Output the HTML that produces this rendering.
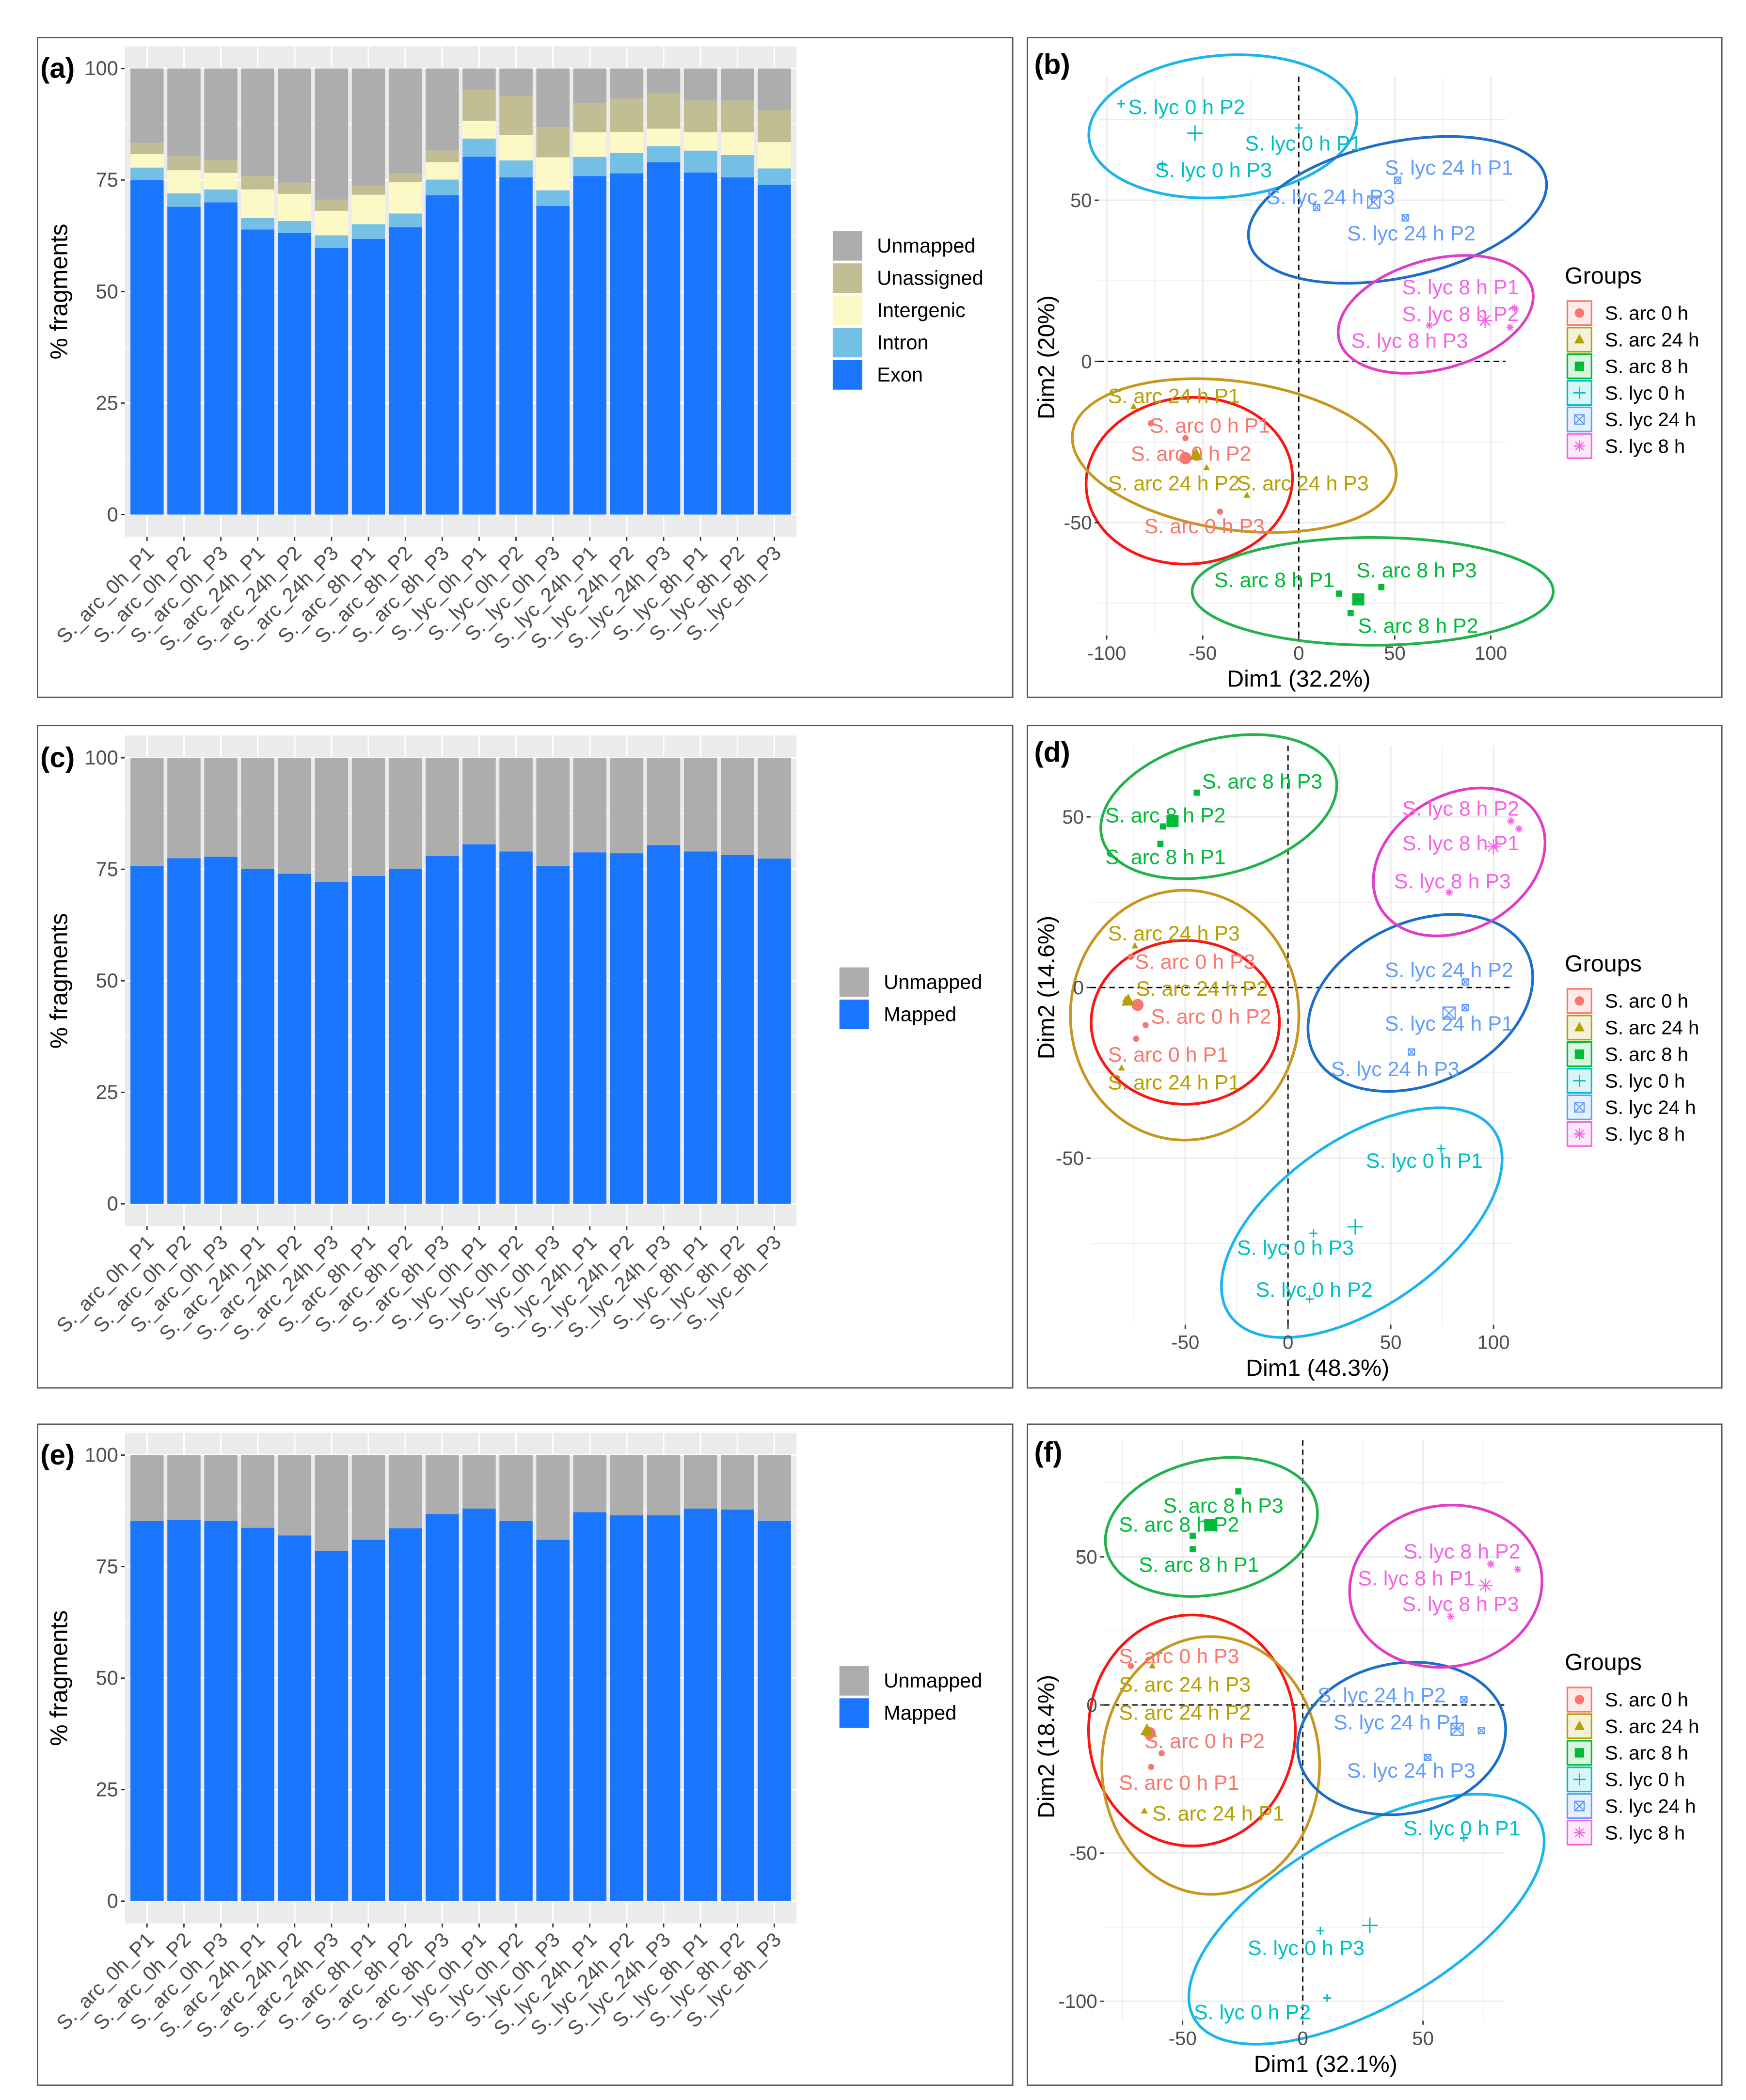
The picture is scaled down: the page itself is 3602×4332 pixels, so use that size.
<!DOCTYPE html>
<html><head><meta charset="utf-8"><style>
html,body{margin:0;padding:0;background:#fff}
svg{display:block;font-family:"Liberation Sans",sans-serif}
</style></head><body>
<svg id="fig" xmlns="http://www.w3.org/2000/svg" width="3602" height="4332" viewBox="0 0 1300 1563" preserveAspectRatio="none"></svg>
<script>
// ---------- bar chart data ----------
const cats = ["S._arc_0h_P1","S._arc_0h_P2","S._arc_0h_P3","S._arc_24h_P1","S._arc_24h_P2","S._arc_24h_P3","S._arc_8h_P1","S._arc_8h_P2","S._arc_8h_P3","S._lyc_0h_P1","S._lyc_0h_P2","S._lyc_0h_P3","S._lyc_24h_P1","S._lyc_24h_P2","S._lyc_24h_P3","S._lyc_8h_P1","S._lyc_8h_P2","S._lyc_8h_P3"];
const exonA = [75,69,70,63.9,63.1,59.8,61.8,64.4,71.6,80.2,75.6,69.2,75.9,76.5,79,76.7,75.6,73.9];
const intronA = [2.8,3,2.9,2.6,2.7,2.8,3.3,3.1,3.5,4.1,3.8,3.5,4.3,4.6,3.6,4.9,5,3.7];
const intergenicA = [3,5.2,3.7,6.4,6.1,5.5,6.6,7,3.9,4,5.7,7.4,5.5,4.7,3.9,4.1,5.1,5.9];
const unassignedA = [2.5,3.1,2.9,3,2.5,2.5,2,2,2.6,6.9,8.8,6.7,6.6,7.5,7.8,7.1,7.1,7.2];
const mappedC = [75.8,77.5,77.8,75.1,74,72.2,73.5,75.1,78,80.6,79,75.8,78.8,78.6,80.4,79,78.2,77.4];
const mappedE = [85.2,85.5,85.3,83.7,82,78.5,81,83.6,86.8,88,85.2,81,87.2,86.5,86.5,88,87.8,85.3];
const barTicks = [0,25,50,75,100];

// ---------- PCA data (order: arc0, arc24, arc8, lyc0, lyc24, lyc8; each P1,P2,P3) ----------
const groupNames = ["S. arc 0 h","S. arc 24 h","S. arc 8 h","S. lyc 0 h","S. lyc 24 h","S. lyc 8 h"];
const pointLabels = ["S. arc 0 h P1","S. arc 0 h P2","S. arc 0 h P3","S. arc 24 h P1","S. arc 24 h P2","S. arc 24 h P3","S. arc 8 h P1","S. arc 8 h P2","S. arc 8 h P3","S. lyc 0 h P1","S. lyc 0 h P2","S. lyc 0 h P3","S. lyc 24 h P1","S. lyc 24 h P2","S. lyc 24 h P3","S. lyc 8 h P1","S. lyc 8 h P2","S. lyc 8 h P3"];

const bPtX = [-77,-59,-41,-86,-48,-27,21,27,43,0,-92.5,-71,51.5,55.5,9.3,112.5,110,68];
const bPtY = [-19.2,-23.8,-46.6,-14,-33,-41.5,-72,-78,-70,72.4,79.9,61,56.2,44.5,47.7,16.5,10.6,11.2];
const bLabX = [-77.6,-87.4,-80.4,-99.3,-99.3,-32.2,-44,30.8,30,-28,-88.8,-74.8,44.8,25.2,-16.8,53.8,53.8,27.3];
const bLabY = [-22.1,-30.8,-53.3,-12.9,-40,-40,-70,-84.2,-67,65.4,76.7,57.1,57.9,37.5,48.8,20.8,12.5,4.2];
const bCenX = [-59,-53.5,31,-54,39,97];
const bCenY = [-30,-29,-73.8,70.8,49.4,12.7];
const bEllX = [-57,-33.6,38.5,-39.5,51.4,71.3];
const bEllY = [-37,-29.2,-71.3,72.9,47,14.6];
const bEllRx = [53.8,85,94,70,79,52];
const bEllRy = [25.8,23,16.7,22,21,17];
const bEllA = [-5,8,0,-5,-12,-15];
const bTickX = [-100,-50,0,50,100];
const bTickY = [-50,0,50];

const dPtX = [-73.9,-69.3,-76.5,-81,-79,-74.5,-62.1,-60.8,-44.4,74.5,10.5,12.4,86.3,86.3,60.1,112.4,108.5,78.4];
const dPtY = [-15,-11,9,-23.6,-3.5,12.2,42.1,47.2,57.1,-47.2,-91.3,-72,-5.9,1.6,-18.9,46.5,48.8,27.9];
const dLabX = [-87.6,-66.7,-74.5,-87.6,-73.9,-87.6,-88.9,-88.9,-41.8,37.9,-15.7,-24.8,47.1,47.1,20.9,55.6,55.6,51.6];
const dLabY = [-21.7,-10.6,5.5,-29.9,-2.4,13.8,36.2,48.4,58.3,-52.8,-90.6,-78.3,-12.6,3.1,-26,40.2,50.4,29.1];
const dCenX = [-73.2,-77.8,-56.2,32.7,78.4,99.9];
const dCenY = [-5.1,-3.9,48.8,-70.1,-7.5,41.3];
const dEllX = [-50,-50.3,-33.7,35.9,64.4,83.3];
const dEllY = [-10.2,-8.1,53,-68.9,-4.5,36.8];
const dEllRx = [45.8,55.6,58.8,78.4,57.5,44.4];
const dEllRy = [24,36.6,19.7,24.4,23.6,19.7];
const dEllA = [0,0,-15,-35,-25,-30];
const dTickX = [-50,0,50,100];
const dTickY = [-50,0,50];

const fPtX = [-63.1,-58.7,-71.5,-65.9,-64.2,-62.6,-45.8,-45.8,-26.8,67,10.1,7.3,74.3,67,52,89.4,78.2,61.5];
const fPtY = [-20.9,-16.3,13.2,-35.8,-9.5,13.2,52.6,57.1,72.1,-44.9,-98.9,-76.2,-8.6,1.8,-17.7,45.8,47.6,29.9];
const fLabX = [-76.5,-65.9,-76.5,-62.6,-76.5,-76.5,-68.2,-76.5,-58.1,41.9,-45.3,-22.9,12.8,6.1,18.4,22.9,41.9,41.3];
const fLabY = [-28.6,-14.5,14.1,-39,-5,4.5,44.9,58.5,64.9,-44,-106.1,-84.4,-8.2,0.9,-24.5,40.4,49.4,31.7];
const fCenX = [-63.7,-64.8,-38.5,27.9,64.2,76];
const fCenY = [-9.5,-8.6,60.8,-74.4,-8.2,40.4];
const fEllX = [-46.1,-38.3,-38,26.5,41.1,59.5];
const fEllY = [-8.6,-20.4,60.1,-72.3,-11.3,40.1];
const fEllRx = [43,45.3,44.7,82.7,43.6,40.2];
const fEllRy = [39,43.5,22.7,29.5,25.4,27.2];
const fEllA = [0,0,-12,-30,-10,-10];
const fTickX = [-50,0,50];
const fTickY = [-100,-50,0,50];

// ---------- helpers ----------
const NS = "http://www.w3.org/2000/svg";
const svg = document.getElementById("fig");
function mk(parent, tag, attrs, text){
  const e = document.createElementNS(NS, tag);
  for (const k in attrs) e.setAttribute(k, attrs[k]);
  if (text !== undefined) e.textContent = text;
  parent.appendChild(e);
  return e;
}
const grpCol = ["#F8766D","#B79F00","#00BA38","#00BFC4","#619CFF","#F564E3"];
const ellCol = ["#FF1414","#C8961E","#22B24C","#1CB4EE","#1C6FC8","#E03CC8"];
const shapes = ["circle","triangle","square","plus","boxx","star"];

function shape(g, type, cx, cy, s, col){
  let e;
  if (type==="circle") e = mk(g,"circle",{cx:cx,cy:cy,r:s,fill:col});
  else if (type==="triangle") e = mk(g,"polygon",{points:`${cx},${cy-s*1.2} ${cx-s*1.1},${cy+s*0.8} ${cx+s*1.1},${cy+s*0.8}`,fill:col});
  else if (type==="square") e = mk(g,"rect",{x:cx-s,y:cy-s,width:2*s,height:2*s,fill:col});
  else if (type==="plus") e = mk(g,"path",{d:`M${cx-s*1.3},${cy}H${cx+s*1.3}M${cx},${cy-s*1.3}V${cy+s*1.3}`,stroke:col,"stroke-width":1,fill:"none"});
  else if (type==="boxx") e = mk(g,"path",{d:`M${cx-s},${cy-s}h${2*s}v${2*s}h${-2*s}zM${cx-s},${cy-s}L${cx+s},${cy+s}M${cx+s},${cy-s}L${cx-s},${cy+s}`,stroke:col,"stroke-width":0.9,fill:"none"});
  else e = mk(g,"path",{d:`M${cx-s*1.2},${cy}H${cx+s*1.2}M${cx},${cy-s*1.2}V${cy+s*1.2}M${cx-s*0.85},${cy-s*0.85}L${cx+s*0.85},${cy+s*0.85}M${cx+s*0.85},${cy-s*0.85}L${cx-s*0.85},${cy+s*0.85}`,stroke:col,"stroke-width":0.9,fill:"none"});
  return e;
}

// panel borders
const borders = [[28,28,726,491,"panel-a"],[765,28,517,491,"panel-b"],[28,540,726,493,"panel-c"],[765,540,517,493,"panel-d"],[28,1060,726,492,"panel-e"],[765,1060,517,492,"panel-f"]];
borders.forEach(b=>{
  const r = mk(svg,"rect",{x:b[0],y:b[1],width:b[2],height:b[3],fill:"none",stroke:"#555","stroke-width":1});
  
  
});

// ---------- bar charts ----------
function barChart(name, letter, zeroY, series, colors, names, legendTop){
  const g = mk(svg,"g",{});
  
  
  const L=93, R=593, ky=3.32;
  const y = v => zeroY - v*ky;
  const x = k => L + (k+1-0.4)*(R-L)/18.2;
  const top = y(105), bot = y(-5);
  const bg = mk(g,"rect",{x:L,y:top,width:R-L,height:bot-top,fill:"#EBEBEB"});
  
  
  [12.5,37.5,62.5,87.5].forEach(v=>mk(g,"line",{x1:L,x2:R,y1:y(v),y2:y(v),stroke:"#fff","stroke-width":0.5}));
  barTicks.forEach(v=>mk(g,"line",{x1:L,x2:R,y1:y(v),y2:y(v),stroke:"#fff","stroke-width":1.1}));
  cats.forEach((c,i)=>mk(g,"line",{x1:x(i),x2:x(i),y1:top,y2:bot,stroke:"#fff","stroke-width":1.1}));
  const bw = 0.9*(R-L)/18.2;
  cats.forEach((c,i)=>{
    let acc=0;
    series.forEach((s,j)=>{
      const v = s[i];
      const r = mk(g,"rect",{x:x(i)-bw/2,y:y(acc+v),width:bw,height:v*ky,fill:colors[j]});
      
      
      acc+=v;
    });
    const rest = 100-acc;
    const r2 = mk(g,"rect",{x:x(i)-bw/2,y:y(100),width:bw,height:rest*ky,fill:"#ADADAD"});
    
    
  });
  barTicks.forEach(v=>{
    mk(g,"line",{x1:L-3,x2:L,y1:y(v),y2:y(v),stroke:"#333","stroke-width":1});
    const t = mk(g,"text",{x:L-5,y:y(v)+5,"text-anchor":"end","font-size":15,fill:"#4D4D4D"},String(v));
    
    
  });
  cats.forEach((c,i)=>{
    mk(g,"line",{x1:x(i),x2:x(i),y1:bot,y2:bot+3,stroke:"#333","stroke-width":1});
    const t = mk(g,"text",{transform:`translate(${x(i)+6},${bot+13}) rotate(-45)`,"text-anchor":"end","font-size":15,fill:"#4D4D4D"},c);
    
    
  });
  const yt = mk(g,"text",{transform:`translate(50,${(top+bot)/2}) rotate(-90)`,"text-anchor":"middle","font-size":18,fill:"#000"},"% fragments");
  
  
  const pl = mk(g,"text",{x:30,y:zeroY-325,"font-size":21,"font-weight":"bold",fill:"#000"},"("+letter+")");
  
  
  // legend
  const legNames = ["Unmapped"].concat(names.slice().reverse());
  const legCols = ["#ADADAD"].concat(colors.slice().reverse());
  const lx = name==="panel-a-chart" ? 620 : 625;
  legNames.forEach((n,k)=>{
    const r = mk(g,"rect",{x:lx,y:legendTop+k*24,width:22,height:22,fill:legCols[k]});
    
    
    const t = mk(g,"text",{x:lx+33,y:legendTop+k*24+16,"font-size":15,fill:"#000"},n);
    
    
  });
}
barChart("panel-a-chart","a",383,[exonA,intronA,intergenicA,unassignedA],["#1A75FF","#74BFE6","#FDF9C6","#C2BE94"],["Exon","Intron","Intergenic","Unassigned"],172);
barChart("panel-c-chart","c",896,[mappedC],["#1A75FF"],["Mapped"],720);
barChart("panel-e-chart","e",1415,[mappedE],["#1A75FF"],["Mapped"],1240);

// ---------- PCA ----------
function pca(cfg){
  const g = mk(svg,"g",{});
  
  
  const X = v => cfg.x0 + v*cfg.kx;
  const Y = v => cfg.y0 - v*cfg.ky;
  const [L,R,T,B] = cfg.area;
  // grid
  for (let v=-150; v<=150; v+=25){
    const px = X(v);
    if (px>=L && px<=R) mk(g,"line",{x1:px,x2:px,y1:T,y2:B,stroke:"#EBEBEB","stroke-width":v%50===0?1.1:0.55});
    const py = Y(v);
    if (py>=T && py<=B) mk(g,"line",{x1:L,x2:R,y1:py,y2:py,stroke:"#EBEBEB","stroke-width":v%50===0?1.1:0.55});
  }
  const zx = mk(g,"line",{x1:X(0),x2:X(0),y1:T,y2:B,stroke:"#000","stroke-width":1,"stroke-dasharray":"4,3"});
  
  
  const zy = mk(g,"line",{x1:L,x2:R,y1:Y(0),y2:Y(0),stroke:"#000","stroke-width":1,"stroke-dasharray":"4,3"});
  
  
  // ellipses
  groupNames.forEach((gn,k)=>{
    const cx = X(cfg.ellX[k]), cy = Y(cfg.ellY[k]);
    const e = mk(g,"ellipse",{cx:cx,cy:cy,rx:cfg.ellRx[k]*cfg.kx,ry:cfg.ellRy[k]*cfg.ky,fill:"none",stroke:ellCol[k],"stroke-width":2,transform:`rotate(${cfg.ellA[k]} ${cx} ${cy})`});
    
    
  });
  // points
  pointLabels.forEach((lab,i)=>{
    const k = Math.floor(i/3);
    const p = shape(g, shapes[k], X(cfg.ptX[i]), Y(cfg.ptY[i]), 2.3, grpCol[k]);
    
    
    const t = mk(g,"text",{x:X(cfg.labX[i]),y:Y(cfg.labY[i]),"font-size":15.5,fill:grpCol[k]},lab);
    
    
  });
  groupNames.forEach((gn,k)=>{
    const c = shape(g, shapes[k], X(cfg.cenX[k]), Y(cfg.cenY[k]), 4.5, grpCol[k]);
    
    
  });
  // axes ticks
  cfg.tickX.forEach(v=>{
    mk(g,"line",{x1:X(v),x2:X(v),y1:B,y2:B+3,stroke:"#333"});
    const t = mk(g,"text",{x:X(v),y:B+18,"text-anchor":"middle","font-size":14.5,fill:"#4D4D4D"},String(v));
    
    
  });
  cfg.tickY.forEach(v=>{
    mk(g,"line",{x1:L-3,x2:L,y1:Y(v),y2:Y(v),stroke:"#333"});
    const t = mk(g,"text",{x:L-5,y:Y(v)+5,"text-anchor":"end","font-size":14.5,fill:"#4D4D4D"},String(v));
    
    
  });
  const xt = mk(g,"text",{x:X(0)+cfg.xtOff,y:B+38,"text-anchor":"middle","font-size":17.5,fill:"#000"},cfg.xTitle);
  
  
  const yt = mk(g,"text",{transform:`translate(785,${cfg.ytY}) rotate(-90)`,"text-anchor":"middle","font-size":17.5,fill:"#000"},cfg.yTitle);
  
  
  const pl = mk(g,"text",{x:770,y:cfg.panelY,"font-size":21,"font-weight":"bold",fill:"#000"},"("+cfg.letter+")");
  
  
  // legend
  const lt = mk(g,"text",{x:1165,y:cfg.legY,"font-size":17.5,fill:"#000"},"Groups");
  
  
  groupNames.forEach((gn,k)=>{
    const yy = cfg.legY+13+k*19.8;
    const box = mk(g,"rect",{x:1167,y:yy,width:18,height:18,fill:grpCol[k],"fill-opacity":0.15,stroke:grpCol[k],"stroke-width":1.2});
    
    
    shape(g, shapes[k], 1176, yy+9, 3.5, grpCol[k]);
    const t = mk(g,"text",{x:1195,y:yy+14,"font-size":14.5,fill:"#000"},gn);
    
    
  });
}
pca({name:"panel-b-chart",letter:"b",x0:967,kx:1.43,y0:269,ky:2.4,area:[818,1121,57,473],ptX:bPtX,ptY:bPtY,labX:bLabX,labY:bLabY,cenX:bCenX,cenY:bCenY,ellX:bEllX,ellY:bEllY,ellRx:bEllRx,ellRy:bEllRy,ellA:bEllA,tickX:bTickX,tickY:bTickY,xTitle:"Dim1 (32.2%)",yTitle:"Dim2 (20%)",xtOff:0,ytY:266,panelY:55,legY:211});
pca({name:"panel-d-chart",letter:"d",x0:959,kx:1.53,y0:735,ky:2.54,area:[812,1125,555,986],ptX:dPtX,ptY:dPtY,labX:dLabX,labY:dLabY,cenX:dCenX,cenY:dCenY,ellX:dEllX,ellY:dEllY,ellRx:dEllRx,ellRy:dEllRy,ellA:dEllA,tickX:dTickX,tickY:dTickY,xTitle:"Dim1 (48.3%)",yTitle:"Dim2 (14.6%)",xtOff:22,ytY:735,panelY:567,legY:723});
pca({name:"panel-f-chart",letter:"f",x0:970,kx:1.79,y0:1269,ky:2.205,area:[822,1120,1072,1504],ptX:fPtX,ptY:fPtY,labX:fLabX,labY:fLabY,cenX:fCenX,cenY:fCenY,ellX:fEllX,ellY:fEllY,ellRx:fEllRx,ellRy:fEllRy,ellA:fEllA,tickX:fTickX,tickY:fTickY,xTitle:"Dim1 (32.1%)",yTitle:"Dim2 (18.4%)",xtOff:17,ytY:1300,panelY:1088,legY:1243});
</script>
</body></html>
